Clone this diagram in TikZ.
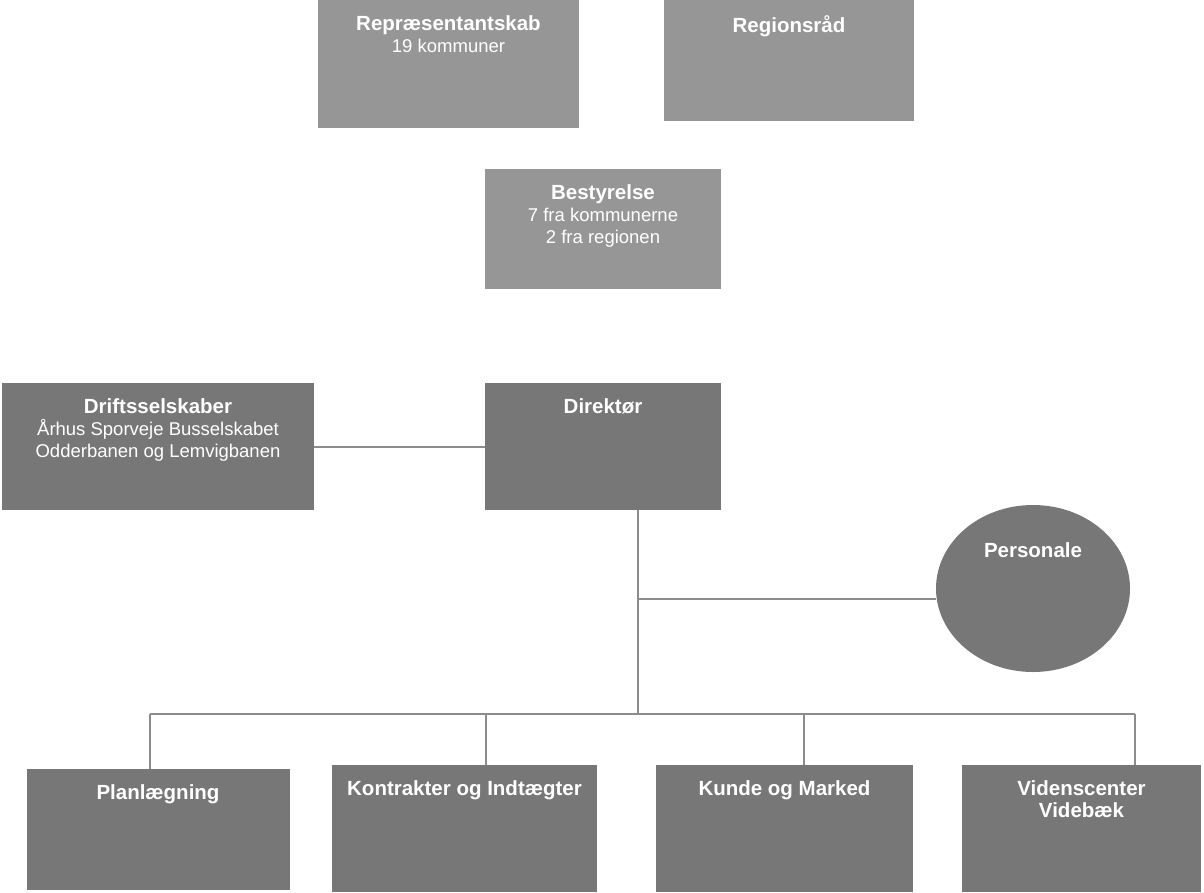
\documentclass[tikz,border=0pt]{standalone}
\usepackage{fontspec}
\setmainfont{Liberation Sans}
\usetikzlibrary{shapes.geometric}
\definecolor{lightbox}{HTML}{969696}
\definecolor{darkbox}{HTML}{777777}
\definecolor{linegray}{HTML}{8C8C8C}
\tikzset{
  box/.style={rectangle, draw=none, inner sep=0pt, outer sep=0pt},
  lbox/.style={box, fill=lightbox},
  dbox/.style={box, fill=darkbox},
  lbl/.style={anchor=north, inner sep=0pt, align=center, text=white,
              font=\fontsize{18.5}{22}\selectfont},
  conn/.style={draw=linegray, line width=2pt},
}
\newcommand{\ttl}[1]{{\fontsize{20.5}{22}\selectfont\bfseries #1}}
\begin{document}
\begin{tikzpicture}[x=1pt,y=-1pt]
\useasboundingbox (0,0) rectangle (1204,892);
% boxes
\node[lbox, minimum width=261pt, minimum height=128pt] (repr) at (448.5,64) {};
\node[lbox, minimum width=250pt, minimum height=121pt] (region) at (789,60.5) {};
\node[lbox, minimum width=236pt, minimum height=120pt] (best) at (603,229) {};
\node[dbox, minimum width=312pt, minimum height=127pt] (drift) at (158,446.5) {};
\node[dbox, minimum width=236pt, minimum height=127pt] (dir) at (603,446.5) {};
\node[dbox, ellipse, inner sep=0pt, minimum width=194pt, minimum height=167pt] (pers) at (1033,588.5) {};
\node[dbox, minimum width=263pt, minimum height=121pt] (plan) at (158,829.5) {};
\node[dbox, minimum width=265pt, minimum height=127pt] (kontr) at (464.5,828.5) {};
\node[dbox, minimum width=257pt, minimum height=127pt] (kunde) at (784.5,828.5) {};
\node[dbox, minimum width=239pt, minimum height=127pt] (viden) at (1081.5,828.5) {};
% labels
\node[lbl, yshift=-15pt] (reprt) at (repr.north) {\ttl{Repræsentantskab}\\19 kommuner};
\node[lbl, yshift=-15pt] (regiont) at (region.north) {\ttl{Regionsråd}};
\node[lbl, yshift=-15pt] (bestt) at (best.north) {\ttl{Bestyrelse}\\7 fra kommunerne\\2 fra regionen};
\node[lbl, yshift=-15pt] (driftt) at (drift.north) {\ttl{Driftsselskaber}\\Århus Sporveje Busselskabet\\Odderbanen og Lemvigbanen};
\node[lbl, yshift=-15pt] (dirt) at (dir.north) {\ttl{Direktør}};
\node[lbl, yshift=-37pt] (perst) at (pers.north) {\ttl{Personale}};
\node[lbl, yshift=-15pt] (plant) at (plan.north) {\ttl{Planlægning}};
\node[lbl, yshift=-15pt] (kontrt) at (kontr.north) {\ttl{Kontrakter og Indtægter}};
\node[lbl, yshift=-15pt] (kundet) at (kunde.north) {\ttl{Kunde og Marked}};
\node[lbl, yshift=-15pt] (vident) at (viden.north) {\ttl{Videnscenter}\\\ttl{Videbæk}};
% junction coordinates
\coordinate (j1) at (638,599);
\coordinate (j2) at (638,714);
\coordinate (d1) at (150,714);
\coordinate (d2) at (486,714);
\coordinate (d3) at (804,714);
\coordinate (d4) at (1135,714);
% connectors
\draw[conn] (drift.east) -- (dir.west);
\draw[conn] (dir.south -| j1) -- (j2);
\draw[conn] (j1) -- (pers.west |- j1);
\draw[conn] (d1) -- (d4);
\draw[conn] (d1) -- (d1 |- plan.north);
\draw[conn] (d2) -- (d2 |- kontr.north);
\draw[conn] (d3) -- (d3 |- kunde.north);
\draw[conn] (d4) -- (d4 |- viden.north);
\end{tikzpicture}
\end{document}
